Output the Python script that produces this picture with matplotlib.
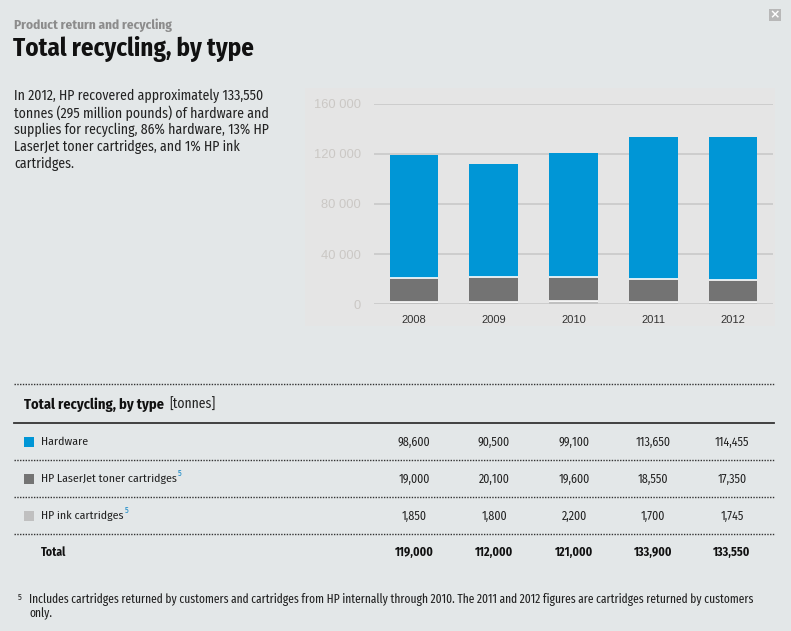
import matplotlib
matplotlib.use("Agg")
import matplotlib.pyplot as plt
from matplotlib.lines import Line2D
from matplotlib.patches import Rectangle
import numpy as np

# ── data ────────────────────────────────────────────────────────────────
YEARS    = ['2008', '2009', '2010', '2011', '2012']
HARDWARE = [98600, 90500, 99100, 113650, 114455]
TONER    = [19000, 20100, 19600, 18550, 17350]
INK      = [1850, 1800, 2200, 1700, 1745]
TOTAL    = [119000, 112000, 121000, 133900, 133550]
Y_TICKS  = [0, 40000, 80000, 120000, 160000]
Y_LABELS = ['0', '40 000', '80 000', '120 000', '160 000']
ROWS     = ['Hardware', 'HP LaserJet toner cartridges', 'HP ink cartridges']

BLUE, DARK, LIGHT = '#0096d6', '#737373', '#c0c0c0'
PAGE_BG, PANEL_BG = '#e3e7e8', '#e5e5e5'
FONT  = ['Fira Sans Condensed', 'Roboto Condensed', 'DejaVu Sans']
FONT2 = ['Fira Sans Extra Condensed', 'Fira Sans Condensed', 'DejaVu Sans']
ARIAL = ['Liberation Sans', 'DejaVu Sans']

W, H = 791, 631
plt.rcParams['font.family'] = FONT
fig = plt.figure(figsize=(W / 100, H / 100), dpi=100, facecolor=PAGE_BG)
renderer = fig.canvas.get_renderer()


def fx(x):
    return x / W


def fy(y):
    return 1 - y / H


def txt(x, y, s, width=None, **kw):
    kw.setdefault('va', 'center')
    t = fig.text(fx(x), fy(y), s, **kw)
    if width:   # scale the font so the text spans about `width` pixels
        w = t.get_window_extent(renderer).width
        t.set_fontsize(t.get_fontsize() * width / w)
    return t


def hline(x0, x1, y, ls='-', color='#333333', lw=1.0):
    fig.add_artist(Line2D([fx(x0), fx(x1)], [fy(y), fy(y)], transform=fig.transFigure,
                          color=color, lw=lw, ls=ls))


def square(x, y, size, color):
    fig.add_artist(Rectangle((fx(x), fy(y + size)), size / W, size / H,
                             transform=fig.transFigure, facecolor=color, edgecolor='none'))


# ── header text ─────────────────────────────────────────────────────────
txt(14, 25, 'Product return and recycling', width=158, fontsize=10, fontweight='bold',
    color='#8c8c8c')
txt(13, 49, 'Total recycling, by type', width=241, fontsize=17, fontweight='bold',
    color='#111111')
para = ['In 2012, HP recovered approximately 133,550',
        'tonnes (295 million pounds) of hardware and',
        'supplies for recycling, 86% hardware, 13% HP',
        'LaserJet toner cartridges, and 1% HP ink',
        'cartridges.']
t0 = txt(14, 96, para[0], width=250, fontsize=9.5, color='#222222')
for i, line in enumerate(para[1:], start=1):
    txt(14, 96 + i * 17, line, fontsize=t0.get_fontsize(), color='#222222')

# close button
square(769, 9, 12, '#b8b8b8')
txt(775, 15, '×', fontsize=9, color='white', ha='center', fontweight='bold',
    family=['DejaVu Sans'])

# ── chart panel ─────────────────────────────────────────────────────────
fig.add_artist(Rectangle((fx(305), fy(326)), 470 / W, 238 / H, transform=fig.transFigure,
                         facecolor=PANEL_BG, edgecolor='none', zorder=0))

ax = fig.add_axes([fx(374), fy(304), 399 / W, 200 / H])
ax.set_facecolor('none')
x = np.arange(len(YEARS))
bw = 0.61
ink = np.array(INK)
toner = np.array(TONER)
hw = np.array(HARDWARE)
ax.bar(x, ink, bw, color=LIGHT, lw=0, zorder=3)
ax.bar(x, toner, bw, bottom=ink, color=DARK, lw=0, zorder=3)
ax.bar(x, hw, bw, bottom=ink + toner, color=BLUE, lw=0, zorder=3)
for xi, b1, b2 in zip(x, ink, ink + toner):
    ax.hlines([b1, b2], xi - bw / 2, xi + bw / 2, color='white', lw=1.2, zorder=4)

ax.set_xlim(-0.5, 4.5)
ax.set_ylim(0, 160000)
ax.set_yticks(Y_TICKS)
ax.set_yticklabels(Y_LABELS, family=ARIAL)
ax.set_xticks(x)
ax.set_xticklabels(YEARS, family=ARIAL)
ax.tick_params(axis='y', length=0, labelsize=9.3, labelcolor='#cbc8c5', pad=9.5)
ax.tick_params(axis='x', length=0, labelsize=8, labelcolor='#333333', pad=8)
ax.grid(axis='y', color='#c9c9c9', lw=1.2, zorder=0)
for s in ax.spines.values():
    s.set_visible(False)

# ── table ───────────────────────────────────────────────────────────────
COL_X = [414, 494, 574, 653, 732]
DOT = (0, (1, 1))
hline(14, 774, 384, ls=DOT, lw=1.0)
txt(24, 405, 'Total recycling, by type', width=140, fontsize=9.5, fontweight='bold',
    color='#111111')
txt(169, 405, '[tonnes]', width=47, fontsize=9.5, color='#222222')
hline(14, 774, 423, lw=1.3)

row_y = [442, 479, 516]
sep_y = [460, 497, 534]
colors = [BLUE, DARK, LIGHT]
series = [HARDWARE, TONER, INK]
tr = txt(41, row_y[1], ROWS[1], width=136, fontsize=8.5, color='#222222')
fs = tr.get_fontsize()
tn = txt(-100, -100, f'{HARDWARE[0]:,}', width=33, fontsize=fs)
fsn = tn.get_fontsize()
tn.remove()
for name, ry, sy, c, vals in zip(ROWS, row_y, sep_y, colors, series):
    square(24, ry - 5, 10, c)
    t = tr if name == ROWS[1] else txt(41, ry, name, fontsize=fs, color='#222222')
    if 'cartridges' in name:
        xe = t.get_window_extent(renderer).x1
        txt(xe + 1, ry - 6, '5', fontsize=fs * 0.7, color='#1a8bc8')
    for cx, v in zip(COL_X, vals):
        txt(cx, ry, f'{v:,}', fontsize=fsn, color='#222222', ha='center')
    hline(14, 774, sy, ls=DOT, lw=1.0)

txt(41, 552, 'Total', fontsize=fs, fontweight='bold', color='#111111')
for cx, v in zip(COL_X, TOTAL):
    txt(cx, 552, f'{v:,}', fontsize=fsn, fontweight='bold', color='#111111', ha='center')

# ── footnote ────────────────────────────────────────────────────────────
txt(18, 597, '5', fontsize=6, color='#222222')
fn = txt(29, 600, 'Includes cartridges returned by customers and cartridges from HP internally '
         'through 2010. The 2011 and 2012 figures are cartridges returned by customers',
         width=732, fontsize=8, color='#222222', family=FONT2)
txt(29, 614, 'only.', fontsize=fn.get_fontsize(), color='#222222', family=FONT2)

fig.savefig('out.png', dpi=100, facecolor=PAGE_BG)
